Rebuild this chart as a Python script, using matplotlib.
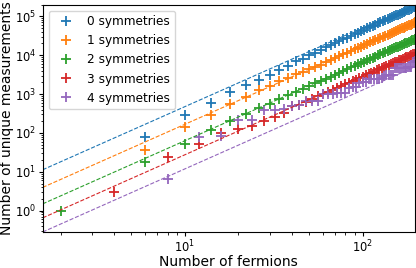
import matplotlib

matplotlib.use("Agg")
import matplotlib.pyplot as plt
import numpy as np

nan = np.nan

# fermion counts (two interleaved grids)
N_A = [2, 6, 10, 14, 18, 22, 26, 30, 34, 38, 42, 46, 50, 54, 58, 62, 66, 70, 74, 78,
       82, 86, 90, 94, 98, 102, 106, 110, 114, 118, 122, 126, 130, 134, 138, 142,
       146, 150, 154, 158, 162, 166, 170, 174, 178, 182, 186, 190, 194, 198]
N_B = [4, 8, 12, 16, 20, 24, 28, 32, 36, 40, 44, 48, 52, 56, 60, 64, 68, 72, 76, 80,
       84, 88, 92, 96, 100, 104, 108, 112, 116, 120, 124, 128, 132, 136, 140, 144,
       148, 152, 156, 160, 164, 168, 172, 176, 180, 184, 188, 192, 196, 200]

SYM0 = [nan, 78, 293, 600, 1140, 1680, 2320, 3180, 4250, 5370, 7180, 7880, 9940,
        11640, 13600, 15790, 18140, 20200, 22890, 25780, 28180, 31420, 34480, 38090,
        40950, 44960, 48600, 52380, 57020, 60440, 65420, 69840, 74410, 79130, 84000,
        89010, 95270, 99500, 106200, 110600, 117700, 123700, 129800, 136000, 142500,
        149100, 155800, 162700, 169700, 176900]
SYM1 = [nan, 37, 140, 281, 550, 849, 1250, 1610, 2150, 2610, 3300, 3600, 4300, 5050,
        5750, 6650, 7500, 8500, 9450, 10600, 11600, 12900, 14000, 15400, 16600, 18200,
        19500, 21200, 22600, 24400, 25900, 27900, 29500, 31600, 33300, 35600, 37300,
        39800, 41600, 44200, 46100, 48900, 50900, 53700, 55800, 58900, 61100, 64300,
        66500, 69900]
SYM2 = [1.0, 17.5, 53, 118, 205, 316, 448, 570, 735, 920, 1125, 1360, 1600, 1880,
        2170, 2490, 2820, 3180, 3560, 3960, 4390, 4830, 5300, 5790, 6290, 6840, 7380,
        7970, 8560, 9190, 9820, 10490, 11180, 11880, 12620, 13370, 14150, 14940, 15770,
        16610, 17480, 18360, 19280, 20200, 21150, 22140, 23140, 24160, 25200, 26270]
SYM3 = [3, 23.7, 52, 100, 128, 150, 199, 255, 322, 480, 530, 640, 735, 870, 980, 1140,
        1270, 1440, 1590, 1790, 1950, 2170, 2340, 2590, 2780, 3050, 3250, 3540, 3760,
        4070, 4300, 4640, 4890, 5250, 5510, 5890, 6170, 6580, 6860, 7300, 7590, 8060,
        8360, 8860, 9170, 9690, 10010, 10570, 10900, 11480]
SYM4 = [nan, 6.7, 80, 85, 219, 219, 400, 400, 410, 480, 520, 660, 670, 680, 1000,
        1020, 1030, 1040, 1050, 1060, 1450, 1480, 1500, 1980, 2000, 2050, 2450, 2460,
        2480, 2500, 2510, 2530, 3000, 3050, 3080, 3100, 3120, 4600, 4650, 4700, 4720,
        4750, 4780, 4800, 4820, 4850, 4880, 6500, 6900, 7100]

# dashed guide lines: values at the left and right ends of the axis
GUIDE_X = [1.587, 197.0]
GUIDE_Y = [
    [11.3, 2.01e5],
    [3.97, 7.05e4],
    [1.50, 2.67e4],
    [0.654, 1.16e4],
    [0.283, 5035],
]

LABELS = ["0 symmetries", "1 symmetries", "2 symmetries", "3 symmetries", "4 symmetries"]
COLORS = ["#1f77b4", "#ff7f0e", "#2ca02c", "#d62728", "#9467bd"]


def main() -> None:
    plt.rcParams["font.family"] = ["DejaVu Sans"]
    fig = plt.figure(figsize=(4.16, 2.68), dpi=100)
    ax = fig.add_axes([0.1026, 0.1343, 0.895, 0.8489])

    xs = [N_A, N_A, N_A, N_B, N_B]
    ys = [SYM0, SYM1, SYM2, SYM3, SYM4]
    for x, y, lab, col in zip(xs, ys, LABELS, COLORS):
        ax.plot(x, y, linestyle="none", marker="+", ms=6.5, mew=1.3, color=col, label=lab)
    for gy, col in zip(GUIDE_Y, COLORS):
        ax.plot(GUIDE_X, gy, "--", lw=0.8, color=col)

    ax.set_xscale("log")
    ax.set_yscale("log")
    ax.set_xlim(GUIDE_X[0], GUIDE_X[1])
    ax.set_ylim(GUIDE_Y[4][0], GUIDE_Y[0][1])
    ax.tick_params(which="major", length=3, labelsize=8.3, pad=1.5)
    ax.tick_params(which="minor", length=1.8)
    ax.set_xlabel("Number of fermions", fontsize=10)
    ax.set_ylabel("Number of unique measurements", fontsize=10)
    ax.xaxis.set_label_coords(0.5, -0.0995)
    ax.yaxis.set_label_coords(-0.0763, 0.5)
    ax.legend(loc="upper left", fontsize=8.7)

    fig.savefig("out.png", dpi=100)
    plt.close(fig)


if __name__ == "__main__":
    main()
